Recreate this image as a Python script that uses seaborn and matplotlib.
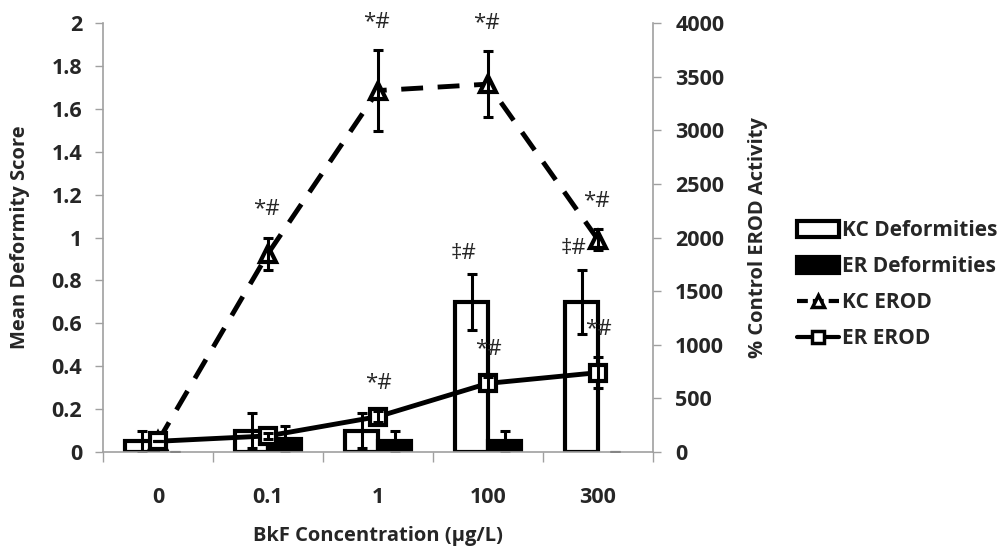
import numpy as np
import pandas as pd
import matplotlib
matplotlib.use("Agg")
import matplotlib.pyplot as plt
import matplotlib.ticker as mticker
from matplotlib.lines import Line2D
from matplotlib.patches import Patch
import seaborn as sns

# BkF exposure groups
concentrations = ["0", "0.1", "1", "100", "300"]

# Mean deformity scores (left axis)
kc_deformity = [0.05, 0.10, 0.10, 0.70, 0.70]
kc_deformity_err = [0.05, 0.08, 0.08, 0.13, 0.15]
er_deformity = [0.0, 0.06, 0.05, 0.05, 0.0]
er_deformity_err = [0.0, 0.06, 0.05, 0.05, 0.0]

# EROD activity as % of control (right axis)
kc_erod = [100, 1850, 3370, 3430, 1980]
kc_erod_err = [0, 150, 380, 310, 100]
er_erod = [100, 150, 330, 640, 740]
er_erod_err = [0, 30, 50, 60, 145]

# Significance markers
kc_erod_marks = ["", "*#", "*#", "*#", "*#"]
er_erod_marks = ["", "", "*#", "*#", "*#"]
kc_def_marks = ["", "", "", "‡#", "‡#"]

sns.set_theme(style="white")
plt.rcParams["font.family"] = ["Open Sans", "DejaVu Sans"]
plt.rcParams["font.weight"] = "bold"

GRAY = "#A0A0A0"
TICK_FS = 15.5
LEG_FS = 15
LABEL_FS = 14.5
MARK_FS = 16

fig = plt.figure(figsize=(10.02, 5.48), dpi=100)
ax = fig.add_axes([103 / 1002, 1 - 452 / 548, 550 / 1002, 429 / 548])

df = pd.DataFrame({
    "conc": concentrations * 2,
    "score": kc_deformity + er_deformity,
    "group": ["KC Deformities"] * len(concentrations) + ["ER Deformities"] * len(concentrations),
})
sns.barplot(data=df, x="conc", y="score", hue="group", order=concentrations,
            hue_order=["KC Deformities", "ER Deformities"],
            palette={"KC Deformities": "white", "ER Deformities": "black"},
            edgecolor="black", linewidth=3, width=0.6, errorbar=None,
            legend=False, ax=ax)

# error bars at each bar centre
for cont, errs in zip(ax.containers, [kc_deformity_err, er_deformity_err]):
    xs, ys = [], []
    for p in cont.patches:
        xs.append(p.get_x() + p.get_width() / 2)
        ys.append(p.get_height())
        if p.get_height() == 0:
            p.set_visible(False)
    ax.errorbar(xs, ys, yerr=errs, fmt="none", ecolor="black",
                elinewidth=2.2, capsize=3.5, capthick=2.2, zorder=5)

kc_centres = [p.get_x() + p.get_width() / 2 for p in ax.containers[0].patches]
for xc, v, e, m in zip(kc_centres, kc_deformity, kc_deformity_err, kc_def_marks):
    if m:
        ax.annotate(m, xy=(xc, v + e), xytext=(-6, 15), textcoords="offset points",
                    ha="center", va="center", fontsize=MARK_FS, fontweight="normal")

ax.set_xlim(-0.5, len(concentrations) - 0.5)
ax.set_ylim(0, 2)
ax.set_yticks(np.arange(0, 2.01, 0.2))
ax.yaxis.set_major_formatter(mticker.FuncFormatter(lambda v, _: f"{v:g}"))

# secondary axis: EROD activity
ax2 = ax.twinx()
pos = np.arange(len(concentrations))
sns.lineplot(x=pos, y=kc_erod, ax=ax2, color="black", linewidth=3.5,
             linestyle=(0, (4.5, 3)), marker="^", markersize=12,
             markerfacecolor="white", markeredgecolor="black", markeredgewidth=3)
sns.lineplot(x=pos, y=er_erod, ax=ax2, color="black", linewidth=3.5,
             marker="s", markersize=11,
             markerfacecolor="white", markeredgecolor="black", markeredgewidth=3)
ax2.errorbar(pos, kc_erod, yerr=kc_erod_err, fmt="none", ecolor="black",
             elinewidth=2.2, capsize=3.5, capthick=2.2, zorder=5)
ax2.errorbar(pos, er_erod, yerr=er_erod_err, fmt="none", ecolor="black",
             elinewidth=2.2, capsize=3.5, capthick=2.2, zorder=5)

for xc, v, e, m in zip(pos, kc_erod, kc_erod_err, kc_erod_marks):
    if m:
        ax2.annotate(m, xy=(xc, v + e), xytext=(-1, 20), textcoords="offset points",
                     ha="center", va="center", fontsize=MARK_FS, fontweight="normal")
for xc, v, e, m in zip(pos, er_erod, er_erod_err, er_erod_marks):
    if m:
        ax2.annotate(m, xy=(xc, v + e), xytext=(0, 20), textcoords="offset points",
                     ha="center", va="center", fontsize=MARK_FS, fontweight="normal")

ax2.set_ylim(0, 4000)
ax2.set_yticks(np.arange(0, 4001, 500))
ax2.set_xlim(-0.5, len(concentrations) - 0.5)

# spines and ticks
for s in ["top", "right"]:
    ax.spines[s].set_visible(False)
for s in ["top", "left", "bottom"]:
    ax2.spines[s].set_visible(False)
for sp in [ax.spines["left"], ax.spines["bottom"], ax2.spines["right"]]:
    sp.set_color(GRAY)
    sp.set_linewidth(1.2)
    sp.set_zorder(6)

ax.tick_params(axis="y", which="major", direction="out", length=6, width=1,
               color=GRAY, labelsize=TICK_FS, pad=9, left=True)
ax2.tick_params(axis="y", which="major", direction="out", length=6, width=1,
                color=GRAY, labelsize=TICK_FS, pad=10, right=True)
ax.set_xticks(pos)
ax.set_xticklabels(concentrations)
ax.set_xticks(np.arange(-0.5, len(concentrations)), minor=True)
ax.tick_params(axis="x", which="major", length=0, labelsize=TICK_FS, pad=25)
ax.tick_params(axis="x", which="minor", direction="out", length=7, width=1,
               color=GRAY, bottom=True)
for lbl in ax.get_xticklabels() + ax.get_yticklabels() + ax2.get_yticklabels():
    lbl.set_fontweight("bold")

ax.set_xlabel("BkF Concentration (µg/L)", fontsize=LABEL_FS, fontweight="bold")
ax.xaxis.set_label_coords(0.5, -0.196)
ax.xaxis.label.set_va("center")
ax.set_ylabel("Mean Deformity Score", fontsize=LABEL_FS, fontweight="bold")
ax.yaxis.set_label_coords(-0.151, 0.5)
ax.yaxis.label.set_va("center")
ax2.set_ylabel("% Control EROD Activity", fontsize=LABEL_FS, fontweight="bold")
ax2.yaxis.set_label_coords(1.191, 0.5)
ax2.yaxis.label.set_va("center")

handles = [
    Patch(facecolor="white", edgecolor="black", linewidth=3),
    Patch(facecolor="black", edgecolor="black", linewidth=3),
    Line2D([], [], color="black", linewidth=3, linestyle=(0, (2.6, 1.2)), marker="^",
           markersize=9, markerfacecolor="white", markeredgecolor="black", markeredgewidth=2.5),
    Line2D([], [], color="black", linewidth=3, marker="s", markersize=9,
           markerfacecolor="white", markeredgecolor="black", markeredgewidth=2.5),
]
labels = ["KC Deformities", "ER Deformities", "KC EROD", "ER EROD"]
fig.legend(handles, labels, loc="center left", bbox_to_anchor=(797 / 1002, 1 - 285 / 548),
           frameon=False, handlelength=2.0, handleheight=0.8, handletextpad=0.15,
           labelspacing=0.72, borderaxespad=0, borderpad=0,
           prop={"size": LEG_FS, "weight": "bold"})

fig.savefig("out.png", dpi=100)
